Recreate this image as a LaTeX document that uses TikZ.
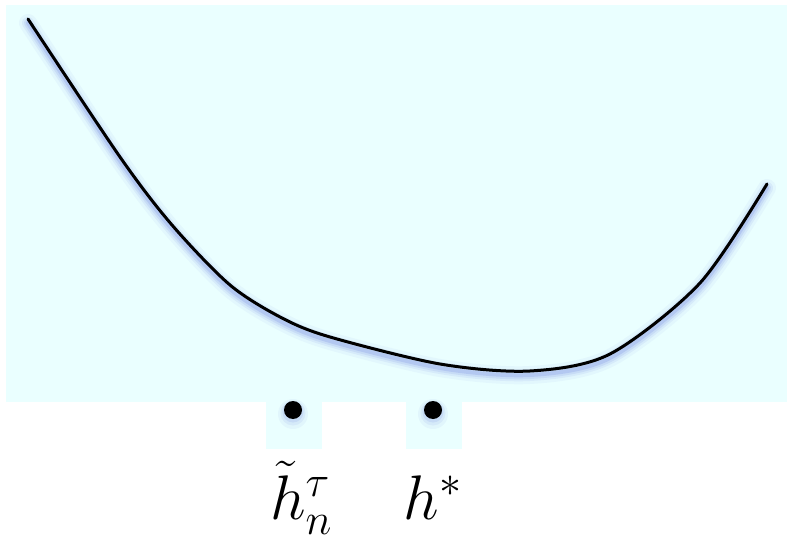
\documentclass[tikz,border=0pt]{standalone}
\usepackage{fix-cm}
\definecolor{bgcyan}{RGB}{234,255,255}
\definecolor{glowblue}{RGB}{110,130,225}
\tikzset{
  glow/.style={draw=glowblue, line cap=round, line join=round},
  dotmark/.style={circle, fill=black, inner sep=0pt, minimum size=18pt},
  dotbox/.style={fill=bgcyan, draw=none, inner sep=0pt, minimum width=56pt, minimum height=47pt},
  lab/.style={inner sep=0pt, font=\fontsize{63}{75}\selectfont}
}
\def\curvepts{(28,19) (120,157) (172,225) (230,285) (282,318) (330,337) (440,364) (530,371) (610,354) (700,283) (767,184)}
\begin{document}
\begin{tikzpicture}[x=1pt,y=-1pt]
\useasboundingbox (0,0) rectangle (787,537);
\fill[bgcyan] (6,5) rectangle (787,402);
\node[dotbox] (boxa) at (294,425.5) {};
\node[dotbox] (boxb) at (434,425.5) {};
% glow under curve
\begin{scope}[yshift=-4pt]
\draw[glow, line width=18pt, opacity=0.06] plot[smooth, tension=0.5] coordinates {\curvepts};
\draw[glow, line width=12pt, opacity=0.1] plot[smooth, tension=0.5] coordinates {\curvepts};
\draw[glow, line width=8pt, opacity=0.14] plot[smooth, tension=0.5] coordinates {\curvepts};
\draw[glow, line width=4pt, opacity=0.22] plot[smooth, tension=0.5] coordinates {\curvepts};
\end{scope}
\draw[line width=3pt, line cap=round, line join=round] plot[smooth, tension=0.5] coordinates {\curvepts};
% glow under dots
\foreach \cx in {293,433}{
  \fill[glowblue, opacity=0.07] (\cx,414) circle (15pt);
  \fill[glowblue, opacity=0.1] (\cx,413) circle (12.5pt);
  \fill[glowblue, opacity=0.14] (\cx,412) circle (10.5pt);
}
\node[dotmark] (da) at (293,410) {};
\node[dotmark] (db) at (433,410) {};
\node[lab, anchor=base] (la) at (301,519) {$\tilde{h}^{\tau}_{n}$};
\node[lab, anchor=base] (lb) at (433,519) {$h^{*}$};
\end{tikzpicture}
\end{document}
